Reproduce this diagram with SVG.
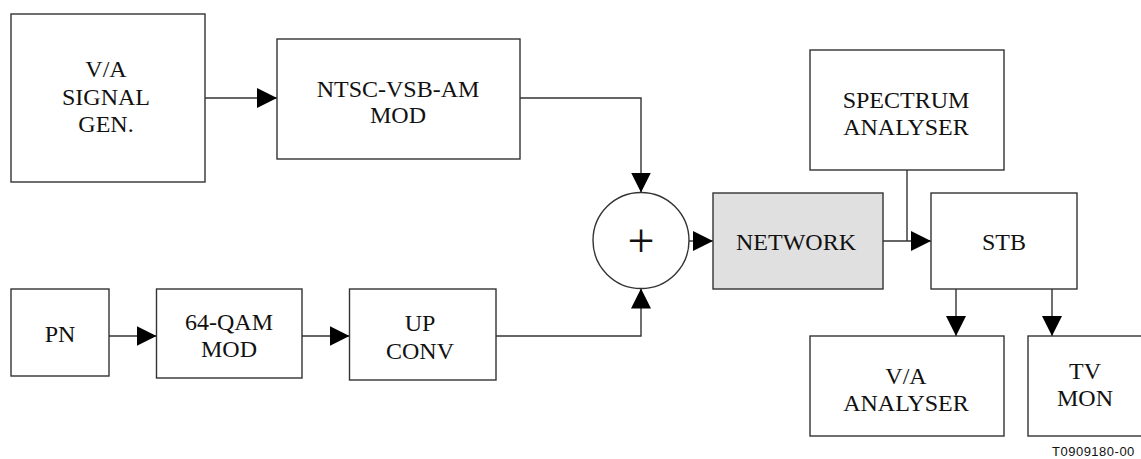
<svg xmlns="http://www.w3.org/2000/svg" width="1141" height="459" viewBox="0 0 1141 459">
<defs>
<style>
.box{fill:#fff;stroke:#333;stroke-width:1.4}
.gray{fill:#e0e0e0}
.lbl{font-family:"Liberation Serif","Times New Roman",serif;font-size:24px;fill:#111;text-anchor:middle}
.con{fill:none;stroke:#333;stroke-width:1.4}
.arr{marker-end:url(#ah)}
.tag{font-family:"Liberation Sans",Arial,sans-serif;font-size:13px;fill:#111;letter-spacing:0.5px}
</style>
<marker id="ah" viewBox="0 0 20 20" refX="20" refY="10" markerWidth="20" markerHeight="20" markerUnits="userSpaceOnUse" orient="auto">
<path d="M0,0 L20,10 L0,20 z" fill="#000"/>
</marker>
</defs>
<rect width="1141" height="459" fill="#fff"/>

<g id="connectors">
<path class="con arr" d="M205,98 L277,98"/>
<path class="con arr" d="M520,98 L641,98 L641,192.5"/>
<path class="con arr" d="M109,336 L156.5,336"/>
<path class="con arr" d="M302,336 L349.5,336"/>
<path class="con arr" d="M496,336 L641,336 L641,288.5"/>
<path class="con arr" d="M689,241 L713,241"/>
<path class="con arr" d="M883,241 L931,241"/>
<path class="con" d="M907,170 L907,241"/>
<path class="con arr" d="M956,289 L956,336"/>
<path class="con arr" d="M1052,289 L1052,336"/>
</g>

<g id="va-signal-gen">
<rect class="box" x="11" y="14" width="194" height="168"/>
<text class="lbl" x="106" y="77">V/A</text>
<text class="lbl" x="106" y="105">SIGNAL</text>
<text class="lbl" x="106" y="132">GEN.</text>
</g>

<g id="ntsc-mod">
<rect class="box" x="277" y="39" width="243" height="120"/>
<text class="lbl" x="398" y="97">NTSC-VSB-AM</text>
<text class="lbl" x="398" y="123">MOD</text>
</g>

<g id="pn">
<rect class="box" x="11" y="289" width="98" height="87"/>
<text class="lbl" x="60" y="342">PN</text>
</g>

<g id="qam-mod">
<rect class="box" x="156.5" y="289" width="145.5" height="89"/>
<text class="lbl" x="229" y="330">64-QAM</text>
<text class="lbl" x="229" y="357">MOD</text>
</g>

<g id="up-conv">
<rect class="box" x="349.5" y="289" width="146.5" height="91"/>
<text class="lbl" x="420" y="331">UP</text>
<text class="lbl" x="420" y="359">CONV</text>
</g>

<g id="summer">
<circle class="box" cx="641" cy="240.5" r="48"/>
<text class="lbl" x="641" y="256.5" style="font-size:48px">+</text>
</g>

<g id="network">
<rect class="box gray" x="713" y="193" width="170" height="96"/>
<text class="lbl" x="796" y="250">NETWORK</text>
</g>

<g id="spectrum-analyser">
<rect class="box" x="810" y="50" width="194" height="120"/>
<text class="lbl" x="906" y="108">SPECTRUM</text>
<text class="lbl" x="906" y="135">ANALYSER</text>
</g>

<g id="stb">
<rect class="box" x="931" y="193" width="146" height="96"/>
<text class="lbl" x="1004" y="250">STB</text>
</g>

<g id="va-analyser">
<rect class="box" x="810" y="336" width="194" height="100"/>
<text class="lbl" x="906" y="384">V/A</text>
<text class="lbl" x="906" y="411">ANALYSER</text>
</g>

<g id="tv-mon">
<rect class="box" x="1028" y="336" width="114" height="100"/>
<text class="lbl" x="1085" y="379">TV</text>
<text class="lbl" x="1085" y="406">MON</text>
</g>

<g id="figure-tag">
<text class="tag" x="1052" y="456">T0909180-00</text>
</g>
</svg>
